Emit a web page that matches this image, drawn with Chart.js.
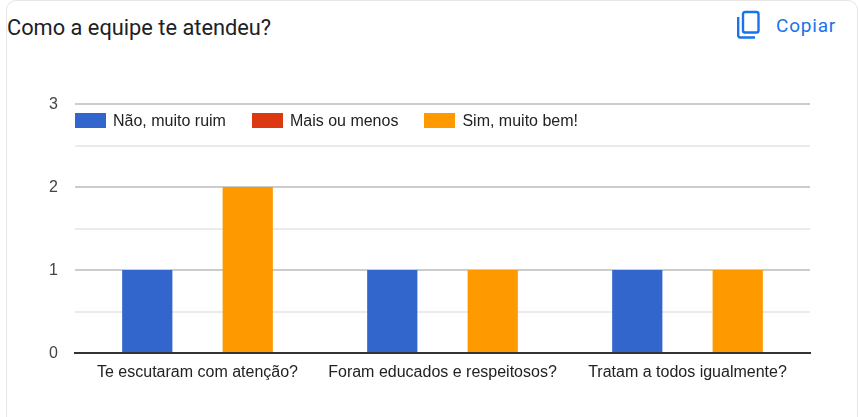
<!DOCTYPE html>
<html lang="pt-BR">
<head>
<meta charset="UTF-8">
<title>Como a equipe te atendeu?</title>
<script src="https://cdn.jsdelivr.net/npm/chart.js"></script>
<style>
    html, body { margin: 0; padding: 0; background: #fff; width: 859px; height: 417px; overflow: hidden; }
    .card { position: absolute; left: 6px; top: 0; width: 852px; height: 440px; box-sizing: border-box; border: 1px solid #e6e6e6; border-radius: 10px; }
    .titulo { position: absolute; left: 7px; top: 15px; font: 21.8px Roboto, sans-serif; color: #202124; white-space: nowrap; }
    .copiar { position: absolute; left: 776px; top: 14px; font: 19px Roboto, sans-serif; color: #1a73e8; letter-spacing: 0.8px; }
    .icone { position: absolute; left: 736px; top: 10px; }
    #grafico { position: absolute; left: 0; top: 0; }
    #legenda { position: absolute; left: 75px; top: 110px; display: flex; gap: 26px; font: 16px/21px "Liberation Sans", sans-serif; color: #222; }
    #legenda div { display: flex; align-items: center; gap: 7px; }
    #legenda i { display: block; width: 31px; height: 15px; }
</style>
</head>
<body>
    <div class="card"></div>
    <div class="titulo">Como a equipe te atendeu?</div>
    <svg class="icone" width="26" height="30" viewBox="0 0 26 30">
        <rect x="7" y="2" width="15.5" height="20.5" rx="2" fill="none" stroke="#1a73e8" stroke-width="2.4"/>
        <path d="M2.2 7 V25.5 a2 2 0 0 0 2 2 H19" fill="none" stroke="#1a73e8" stroke-width="2.4"/>
    </svg>
    <div class="copiar">Copiar</div>
    <canvas id="grafico" width="859" height="417"></canvas>
    <div id="legenda"></div>
    <script>
        const perguntas = ['Te escutaram com atenção?', 'Foram educados e respeitosos?', 'Tratam a todos igualmente?'];
        const naoMuitoRuim = [1, 1, 1];
        const maisOuMenos = [0, 0, 0];
        const simMuitoBem = [2, 1, 1];

        const grafico = new Chart(document.getElementById('grafico'), {
            type: 'bar',
            data: {
                labels: perguntas,
                datasets: [
                    { label: 'Não, muito ruim', data: naoMuitoRuim, backgroundColor: '#3366cc' },
                    { label: 'Mais ou menos', data: maisOuMenos, backgroundColor: '#dc3912' },
                    { label: 'Sim, muito bem!', data: simMuitoBem, backgroundColor: '#ff9900' }
                ]
            },
            options: {
                responsive: false,
                animation: false,
                layout: { padding: { top: 104, right: 49, bottom: 0, left: 0 } },
                datasets: { bar: { categoryPercentage: 0.615, barPercentage: 1 } },
                scales: {
                    y: {
                        min: 0,
                        max: 3,
                        afterFit: scale => { scale.width = 75; },
                        border: { display: false },
                        grid: {
                            drawTicks: false,
                            lineWidth: 2,
                            color: ctx => ctx.tick.value === 0 ? 'transparent' : (Number.isInteger(ctx.tick.value) ? '#cccccc' : '#ebebeb')
                        },
                        ticks: {
                            stepSize: 0.5,
                            padding: 17,
                            labelOffset: 1,
                            color: '#444444',
                            font: { family: 'Liberation Sans', size: 16 },
                            callback: v => Number.isInteger(v) ? v : ''
                        }
                    },
                    x: {
                        afterFit: scale => { scale.height = 64; },
                        border: { display: true, color: '#333333', width: 2 },
                        grid: { display: false, drawTicks: false },
                        ticks: {
                            padding: 10,
                            maxRotation: 0,
                            color: '#222222',
                            font: { family: 'Liberation Sans', size: 16 }
                        }
                    }
                },
                plugins: {
                    tooltip: { enabled: false },
                    legend: { display: false }
                }
            }
        });

        // legenda sobre a área do gráfico, como no original
        const legenda = document.getElementById('legenda');
        grafico.data.datasets.forEach(ds => {
            const item = document.createElement('div');
            const caixa = document.createElement('i');
            caixa.style.background = ds.backgroundColor;
            item.appendChild(caixa);
            item.appendChild(document.createTextNode(ds.label));
            legenda.appendChild(item);
        });
    </script>
</body>
</html>
